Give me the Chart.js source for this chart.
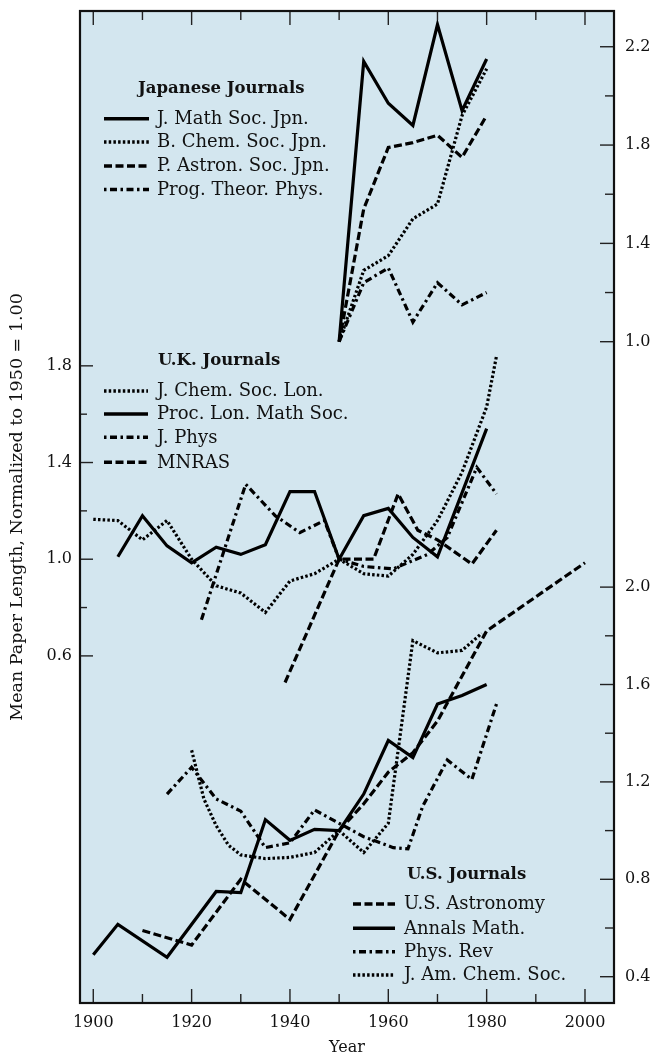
<!DOCTYPE html>
<html><head><meta charset="utf-8">
<script src="https://cdn.jsdelivr.net/npm/chart.js@4.4.1/dist/chart.umd.min.js"></script>
<style>html,body{margin:0;padding:0;background:#fff}canvas{display:block}</style>
</head><body>
<canvas id="c" width="658" height="1057"></canvas>
<script>
// ---------- DATA ----------
// Japanese journals (right axis, upper)
const jpYears   = [1950,1955,1960,1965,1970,1975,1980];
const jpMath    = [1.00,2.14,1.97,1.88,2.29,1.94,2.15];
const jpChem    = [1.00,1.29,1.35,1.50,1.56,1.92,2.11];
const jpAstron  = [1.00,1.54,1.79,1.81,1.84,1.75,1.92];
const jpTheor   = [1.00,1.24,1.30,1.08,1.24,1.15,1.20];

// U.K. journals (left axis)
const ukChemYears  = [1900,1905,1910,1915,1920,1925,1930,1935,1940,1945,1950,1955,1960,1965,1970,1975,1980,1982];
const ukChem       = [1.165,1.16,1.08,1.16,1.00,0.89,0.86,0.78,0.91,0.94,1.00,0.94,0.93,1.02,1.16,1.36,1.63,1.84];
const ukMathYears  = [1905,1910,1915,1920,1925,1930,1935,1940,1945,1950,1955,1960,1965,1970,1980];
const ukMath       = [1.01,1.18,1.055,0.985,1.05,1.02,1.06,1.28,1.28,1.00,1.18,1.21,1.09,1.01,1.54];
const ukPhysYears  = [1922,1931,1937,1942,1947,1950,1955,1961,1968,1972,1978,1982];
const ukPhys       = [0.75,1.31,1.18,1.11,1.16,1.00,0.97,0.96,1.02,1.09,1.38,1.27];
const ukMnrasYears = [1939,1950,1957,1962,1966,1970,1977,1982];
const ukMnras      = [0.49,1.00,1.00,1.27,1.12,1.08,0.98,1.12];

// U.S. journals (right axis, lower)
const usAstroYears = [1910,1920,1930,1940,1950,1955,1960,1965,1970,1980,2000];
const usAstro      = [0.59,0.53,0.80,0.635,1.00,1.11,1.24,1.32,1.45,1.82,2.10];
const usMathYears  = [1900,1905,1915,1925,1930,1935,1940,1945,1950,1955,1960,1965,1970,1975,1980];
const usMath       = [0.49,0.615,0.48,0.75,0.745,1.045,0.96,1.005,1.00,1.15,1.37,1.30,1.52,1.555,1.60];
const usPhysYears  = [1915,1920,1925,1930,1935,1940,1945,1950,1955,1961,1964,1967,1972,1977,1982];
const usPhys       = [1.15,1.26,1.13,1.08,0.93,0.95,1.085,1.03,0.975,0.93,0.925,1.10,1.29,1.21,1.52];
const usChemYears  = [1920,1922.5,1925,1927.5,1930,1935,1940,1945,1950,1955,1960,1965,1970,1975,1979];
const usChem       = [1.33,1.13,1.02,0.94,0.90,0.885,0.89,0.91,1.00,0.91,1.03,1.78,1.73,1.74,1.81];

// Legend labels
const jpLabels = ['J. Math Soc. Jpn.','B. Chem. Soc. Jpn.','P. Astron. Soc. Jpn.','Prog. Theor. Phys.'];
const ukLabels = ['J. Chem. Soc. Lon.','Proc. Lon. Math Soc.','J. Phys','MNRAS'];
const usLabels = ['U.S. Astronomy','Annals Math.','Phys. Rev','J. Am. Chem. Soc.'];

// Tick labels
const xTickYears   = [1900,1920,1940,1960,1980,2000];
const xMinorYears  = [1910,1930,1950,1970,1990];
const ukTickVals   = [0.6,1.0,1.4,1.8];
const ukMinorVals  = [0.8,1.2,1.6];
const jpTickVals   = [1.0,1.4,1.8,2.2];
const jpMinorVals  = [1.2,1.6,2.0];
const usTickVals   = [0.4,0.8,1.2,1.6,2.0];
const usMinorVals  = [0.6,1.0,1.4,1.8];

// ---------- LAYOUT / STYLE ----------
const FONT = '"DejaVu Serif", "Liberation Serif", serif';
const PLOT_BG = '#d3e6ef';
const X_RANGE  = {min: 1897.3, max: 2005.9};
const JP_RANGE = {min: -1.6904, max: 2.3454};
const UK_RANGE = {min: -0.836, max: 3.268};
const US_RANGE = {min: 0.292, max: 4.366};
const DASH = {solid: [], dotted: [2.5, 2.2], dashed: [8, 3.5], dashdot: [7, 3.5, 2.5, 3.5]};

function series(label, years, vals, axis, style) {
  return {
    label, yAxisID: axis, styleName: style,
    data: years.map((x, i) => ({x, y: vals[i]})),
    borderColor: '#000', borderWidth: 3.2, borderDash: DASH[style],
    borderCapStyle: 'butt', borderJoinStyle: 'miter',
    pointRadius: 0, pointHoverRadius: 0, tension: 0, fill: false
  };
}

const datasets = [
  series(jpLabels[0], jpYears, jpMath, 'yJP', 'solid'),
  series(jpLabels[1], jpYears, jpChem, 'yJP', 'dotted'),
  series(jpLabels[2], jpYears, jpAstron, 'yJP', 'dashed'),
  series(jpLabels[3], jpYears, jpTheor, 'yJP', 'dashdot'),
  series(ukLabels[0], ukChemYears, ukChem, 'yUK', 'dotted'),
  series(ukLabels[1], ukMathYears, ukMath, 'yUK', 'solid'),
  series(ukLabels[2], ukPhysYears, ukPhys, 'yUK', 'dashdot'),
  series(ukLabels[3], ukMnrasYears, ukMnras, 'yUK', 'dashed'),
  series(usLabels[0], usAstroYears, usAstro, 'yUS', 'dashed'),
  series(usLabels[1], usMathYears, usMath, 'yUS', 'solid'),
  series(usLabels[2], usPhysYears, usPhys, 'yUS', 'dashdot'),
  series(usLabels[3], usChemYears, usChem, 'yUS', 'dotted')
];

const legendGroups = [
  {title: 'Japanese Journals', tx: 138, ty: 93,  x1: 104, x2: 149, textX: 157, rows: [118.7, 142, 166, 189.5], ds: [0,1,2,3]},
  {title: 'U.K. Journals',     tx: 158, ty: 365, x1: 104, x2: 148, textX: 157, rows: [391, 414, 437.3, 462.3], ds: [4,5,6,7]},
  {title: 'U.S. Journals',     tx: 407, ty: 879, x1: 353, x2: 395, textX: 404, rows: [904, 928.3, 951.7, 975], ds: [8,9,10,11]}
];

const usToJp = v => JP_RANGE.min + (v - US_RANGE.min) / (US_RANGE.max - US_RANGE.min) * (JP_RANGE.max - JP_RANGE.min);

const decor = {
  id: 'decor',
  beforeDraw(chart) {
    const {ctx, chartArea: a} = chart;
    ctx.save();
    ctx.fillStyle = PLOT_BG;
    ctx.fillRect(a.left, a.top, a.right - a.left, a.bottom - a.top);
    ctx.restore();
  },
  afterDraw(chart) {
    const {ctx, chartArea: a, scales} = chart;
    ctx.save();
    const seg = (x1, y1, x2, y2) => { ctx.beginPath(); ctx.moveTo(x1, y1); ctx.lineTo(x2, y2); ctx.stroke(); };
    // inward tick marks
    ctx.strokeStyle = '#222'; ctx.lineWidth = 1.4; ctx.setLineDash([]);
    const xt = (vals, len) => vals.forEach(v => { const p = scales.x.getPixelForValue(v); seg(p, a.bottom, p, a.bottom - len); seg(p, a.top, p, a.top + len); });
    xt(xTickYears, 14); xt(xMinorYears, 9);
    const lt = (vals, len) => vals.forEach(v => { const p = scales.yUK.getPixelForValue(v); seg(a.left, p, a.left + len, p); });
    lt(ukTickVals, 13); lt(ukMinorVals, 7);
    const rt = (sc, vals, len) => vals.forEach(v => { const p = sc.getPixelForValue(v); seg(a.right, p, a.right - len, p); });
    rt(scales.yJP, jpTickVals, 14); rt(scales.yJP, jpMinorVals, 9);
    rt(scales.yUS, usTickVals, 14); rt(scales.yUS, usMinorVals, 9);
    // frame
    ctx.strokeStyle = '#111'; ctx.lineWidth = 2.2;
    ctx.strokeRect(a.left, a.top, a.right - a.left, a.bottom - a.top);
    // legends
    ctx.fillStyle = '#111';
    legendGroups.forEach(g => {
      ctx.font = 'bold 16.5px ' + FONT;
      ctx.textAlign = 'left'; ctx.textBaseline = 'alphabetic';
      ctx.fillText(g.title, g.tx, g.ty);
      g.ds.forEach((di, k) => {
        const d = chart.data.datasets[di];
        const y = g.rows[k];
        ctx.strokeStyle = '#000'; ctx.lineWidth = 3.5; ctx.lineCap = 'butt';
        ctx.setLineDash(DASH[d.styleName]);
        ctx.lineDashOffset = d.styleName === 'dashdot' ? 10.5 : 0;
        seg(g.x1, y, g.x2, y);
        ctx.setLineDash([]); ctx.lineDashOffset = 0;
        ctx.font = '18px ' + FONT;
        ctx.fillText(d.label, g.textX, y + 5.3);
      });
    });
    ctx.restore();
  }
};

const tickFont = {family: FONT, size: 16};
const noPadY = s => { s.paddingTop = 0; s.paddingBottom = 0; };
const noPadX = s => { s.paddingLeft = 0; s.paddingRight = 0; };

new Chart(document.getElementById('c'), {
  type: 'line',
  data: {datasets},
  plugins: [decor],
  options: {
    responsive: false, animation: false,
    layout: {padding: 0},
    plugins: {legend: {display: false}, tooltip: {enabled: false}},
    scales: {
      x: {
        type: 'linear', position: 'bottom', min: X_RANGE.min, max: X_RANGE.max,
        afterBuildTicks: s => { s.ticks = xTickYears.map(v => ({value: v})); },
        ticks: {font: tickFont, color: '#111', padding: 10, maxRotation: 0, autoSkip: false, callback: v => String(v)},
        grid: {display: false, drawTicks: false}, border: {display: false},
        title: {display: true, text: 'Year', font: tickFont, color: '#111', padding: {top: 0, bottom: 0}},
        afterFit: s => { s.height = 54; noPadX(s); }
      },
      xTop: {
        type: 'linear', position: 'top', min: X_RANGE.min, max: X_RANGE.max,
        ticks: {display: false}, grid: {display: false, drawTicks: false}, border: {display: false},
        afterFit: s => { s.height = 11; noPadX(s); }
      },
      yUK: {
        type: 'linear', position: 'left', min: UK_RANGE.min, max: UK_RANGE.max,
        afterBuildTicks: s => { s.ticks = ukTickVals.map(v => ({value: v})); },
        ticks: {font: tickFont, color: '#111', padding: 8, autoSkip: false, callback: v => v.toFixed(1)},
        grid: {display: false, drawTicks: false}, border: {display: false},
        title: {display: true, text: 'Mean Paper Length, Normalized to 1950 = 1.00', font: {family: FONT, size: 17.5}, color: '#111', padding: {top: 7, bottom: 0}},
        afterFit: s => { s.width = 80; noPadY(s); }
      },
      yJP: {
        type: 'linear', position: 'right', min: JP_RANGE.min, max: JP_RANGE.max,
        afterBuildTicks: s => {
          const t = jpTickVals.map(v => ({value: v, lbl: v.toFixed(1)}))
            .concat(usTickVals.map(v => ({value: usToJp(v), lbl: v.toFixed(1)})));
          t.sort((p, q) => p.value - q.value);
          s.ticks = t;
        },
        ticks: {font: tickFont, color: '#111', padding: 11, autoSkip: false, callback: (v, i, t) => t[i].lbl},
        grid: {display: false, drawTicks: false}, border: {display: false},
        afterFit: s => { s.width = 44; noPadY(s); }
      },
      yUS: {
        type: 'linear', position: 'right', display: false, min: US_RANGE.min, max: US_RANGE.max,
        afterFit: s => { noPadY(s); }
      }
    }
  }
});
</script>
</body></html>
